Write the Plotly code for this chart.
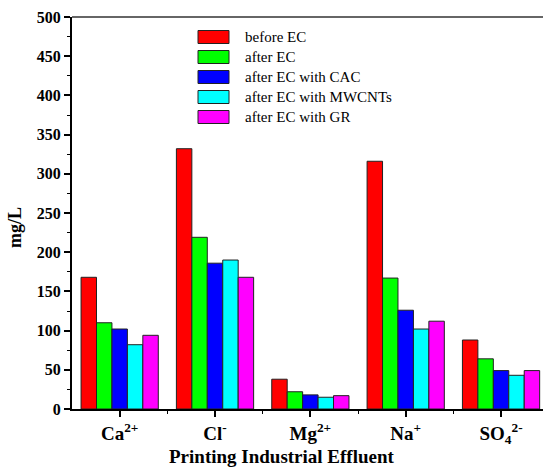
import plotly.graph_objects as go

categories = ["Ca<sup>2+</sup>", "Cl<sup>-</sup>", "Mg<sup>2+</sup>", "Na<sup>+</sup>", "SO<sub>4</sub><sup>2-</sup>"]
series_names = ["before EC", "after EC", "after EC with CAC", "after EC with MWCNTs", "after EC with GR"]
before_ec = [168, 332, 38, 316, 88]
after_ec = [110, 219, 22, 167, 64]
after_cac = [102, 186, 18, 126, 49]
after_mwcnts = [82, 190, 15, 102, 43]
after_gr = [94, 168, 17, 112, 49]
series_values = [before_ec, after_ec, after_cac, after_mwcnts, after_gr]
colors = ["#ff0000", "#00ff00", "#0000ff", "#00ffff", "#ff00ff"]
y_ticks = [0, 50, 100, 150, 200, 250, 300, 350, 400, 450, 500]

W, H = 543, 470
L, R, T, B = 72, 0, 17, 61
font = "Liberation Serif"

fig = go.Figure()
for name, vals, c in zip(series_names, series_values, colors):
    fig.add_trace(go.Bar(x=list(range(len(categories))), y=vals, name=name,
                         marker=dict(color=c, line=dict(color="#222222", width=1)),
                         showlegend=False))

fig.update_layout(
    width=W, height=H, margin=dict(l=L, r=R, t=T, b=B),
    paper_bgcolor="white", plot_bgcolor="white",
    barmode="group", bargap=0.19, bargroupgap=0,
    font=dict(family=font, color="black"),
    xaxis=dict(range=[-0.5, 4.44], tickmode="array", tickvals=list(range(len(categories))),
               ticktext=categories, ticks="outside", ticklen=6, tickwidth=2, tickcolor="black",
               showline=True, linecolor="black", linewidth=2, showgrid=False, zeroline=False,
               minor=dict(tickmode="array", tickvals=[0.5, 1.5, 2.5, 3.5], ticks="outside",
                          ticklen=3, tickwidth=1, tickcolor="black"),
               tickfont=dict(family=font, size=19, color="black", weight="bold")),
    yaxis=dict(range=[0, 500], tickvals=y_ticks, ticks="outside", ticklen=6, tickwidth=2,
               tickcolor="black", showline=True, linecolor="black", linewidth=2,
               showgrid=False, zeroline=False,
               minor=dict(dtick=25, ticks="outside", ticklen=3, tickcolor="black", tickwidth=1),
               tickfont=dict(family=font, size=16, color="black", weight="bold")),
)

# top frame line
fig.add_shape(type="line", xref="paper", yref="paper", x0=0, x1=1, y0=1, y1=1,
              line=dict(color="#666666", width=2))

# manual legend
pw = W - L - R
ph = H - T - B
def px_x(x):
    return (x - L) / pw
def px_y(y):
    return 1 - (y - T) / ph
for i, (name, c) in enumerate(zip(series_names, colors)):
    yc = 37 + 20 * i
    fig.add_shape(type="rect", xref="paper", yref="paper",
                  x0=px_x(198), x1=px_x(229), y0=px_y(yc - 6.5), y1=px_y(yc + 6.5),
                  fillcolor=c, line=dict(color="#222222", width=1))
    fig.add_annotation(xref="paper", yref="paper", x=px_x(243), y=px_y(yc), text=name,
                       showarrow=False, xanchor="left", yanchor="middle",
                       font=dict(family=font, size=15, color="black"))

fig.add_annotation(xref="paper", yref="paper", x=px_x(282), y=px_y(457), text="<b>Printing Industrial Effluent</b>",
                   showarrow=False, xanchor="center", yanchor="middle",
                   font=dict(family=font, size=19, color="black"))
fig.add_annotation(xref="paper", yref="paper", x=px_x(15), y=px_y(228), text="<b>mg/L</b>",
                   showarrow=False, xanchor="center", yanchor="middle", textangle=-90,
                   font=dict(family=font, size=18, color="black"))

fig.write_html("out.html")
